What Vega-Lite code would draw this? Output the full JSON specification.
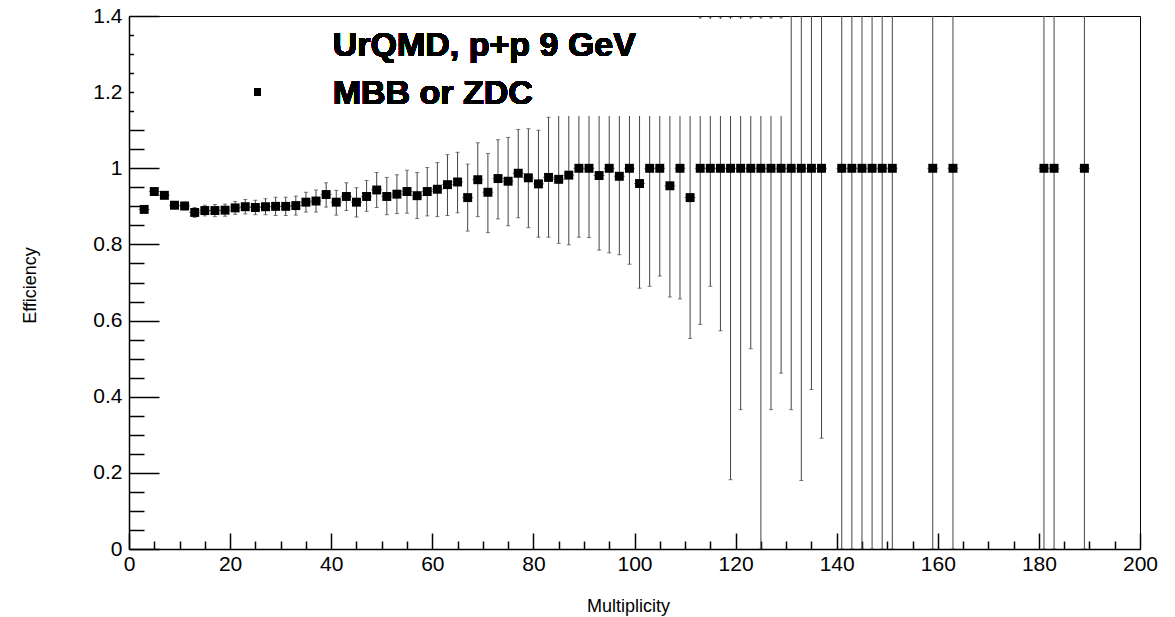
{
  "$schema": "https://vega.github.io/schema/vega-lite/v6.json",
  "width": 1011,
  "height": 533,
  "autosize": {"type": "none"},
  "padding": {"left": 129, "top": 16, "right": 35, "bottom": 68},
  "background": "white",
  "config": {
    "font": "Liberation Sans",
    "view": {"stroke": "#000", "strokeWidth": 1},
    "axis": {"grid": false, "domainColor": "#000", "domainWidth": 1.5, "tickColor": "#000", "tickWidth": 1.5, "labelColor": "#000", "titleColor": "#000", "labelFont": "Liberation Sans", "titleFont": "Liberation Sans", "titleFontWeight": "normal", "labelFlush": false, "labelOverlap": false, "labelBound": false, "zindex": 1, "offset": 0}
  },
  "resolve": {"axis": {"x": "independent", "y": "independent"}},
  "data": {
    "values": [
      {"x": 3, "y": 0.892, "lo": 0.886, "hi": 0.898},
      {"x": 5, "y": 0.939, "lo": 0.933, "hi": 0.945},
      {"x": 7, "y": 0.929, "lo": 0.922, "hi": 0.936},
      {"x": 9, "y": 0.903, "lo": 0.895, "hi": 0.911},
      {"x": 11, "y": 0.901, "lo": 0.891, "hi": 0.911},
      {"x": 13, "y": 0.884, "lo": 0.871, "hi": 0.897},
      {"x": 15, "y": 0.889, "lo": 0.875, "hi": 0.903},
      {"x": 17, "y": 0.889, "lo": 0.873, "hi": 0.905},
      {"x": 19, "y": 0.890, "lo": 0.874, "hi": 0.906},
      {"x": 21, "y": 0.896, "lo": 0.879, "hi": 0.913},
      {"x": 23, "y": 0.899, "lo": 0.880, "hi": 0.918},
      {"x": 25, "y": 0.897, "lo": 0.878, "hi": 0.916},
      {"x": 27, "y": 0.899, "lo": 0.878, "hi": 0.920},
      {"x": 29, "y": 0.900, "lo": 0.876, "hi": 0.924},
      {"x": 31, "y": 0.900, "lo": 0.876, "hi": 0.924},
      {"x": 33, "y": 0.902, "lo": 0.877, "hi": 0.927},
      {"x": 35, "y": 0.911, "lo": 0.885, "hi": 0.937},
      {"x": 37, "y": 0.914, "lo": 0.885, "hi": 0.943},
      {"x": 39, "y": 0.931, "lo": 0.898, "hi": 0.962},
      {"x": 41, "y": 0.911, "lo": 0.877, "hi": 0.942},
      {"x": 43, "y": 0.926, "lo": 0.889, "hi": 0.962},
      {"x": 45, "y": 0.911, "lo": 0.872, "hi": 0.949},
      {"x": 47, "y": 0.926, "lo": 0.887, "hi": 0.968},
      {"x": 49, "y": 0.943, "lo": 0.897, "hi": 0.989},
      {"x": 51, "y": 0.926, "lo": 0.878, "hi": 0.976},
      {"x": 53, "y": 0.932, "lo": 0.881, "hi": 0.983},
      {"x": 55, "y": 0.939, "lo": 0.882, "hi": 0.995},
      {"x": 57, "y": 0.928, "lo": 0.868, "hi": 0.989},
      {"x": 59, "y": 0.939, "lo": 0.875, "hi": 1.002},
      {"x": 61, "y": 0.945, "lo": 0.873, "hi": 1.015},
      {"x": 63, "y": 0.957, "lo": 0.876, "hi": 1.036},
      {"x": 65, "y": 0.964, "lo": 0.883, "hi": 1.042},
      {"x": 67, "y": 0.923, "lo": 0.835, "hi": 1.011},
      {"x": 69, "y": 0.970, "lo": 0.873, "hi": 1.067},
      {"x": 71, "y": 0.937, "lo": 0.831, "hi": 1.039},
      {"x": 73, "y": 0.973, "lo": 0.867, "hi": 1.075},
      {"x": 75, "y": 0.966, "lo": 0.849, "hi": 1.081},
      {"x": 77, "y": 0.987, "lo": 0.870, "hi": 1.102},
      {"x": 79, "y": 0.975, "lo": 0.844, "hi": 1.104},
      {"x": 81, "y": 0.959, "lo": 0.819, "hi": 1.100},
      {"x": 83, "y": 0.976, "lo": 0.819, "hi": 1.134},
      {"x": 85, "y": 0.971, "lo": 0.803, "hi": 1.3},
      {"x": 87, "y": 0.982, "lo": 0.799, "hi": 1.3},
      {"x": 89, "y": 1.0, "lo": 0.819, "hi": 1.3},
      {"x": 91, "y": 1.0, "lo": 0.818, "hi": 1.3},
      {"x": 93, "y": 0.981, "lo": 0.785, "hi": 1.3},
      {"x": 95, "y": 1.0, "lo": 0.778, "hi": 1.3},
      {"x": 97, "y": 0.979, "lo": 0.773, "hi": 1.3},
      {"x": 99, "y": 1.0, "lo": 0.748, "hi": 1.3},
      {"x": 101, "y": 0.960, "lo": 0.685, "hi": 1.3},
      {"x": 103, "y": 1.0, "lo": 0.690, "hi": 1.3},
      {"x": 105, "y": 1.0, "lo": 0.717, "hi": 1.3},
      {"x": 107, "y": 0.954, "lo": 0.662, "hi": 1.3},
      {"x": 109, "y": 1.0, "lo": 0.657, "hi": 1.3},
      {"x": 111, "y": 0.923, "lo": 0.553, "hi": 1.3},
      {"x": 113, "y": 1.0, "lo": 0.590, "hi": 1.397},
      {"x": 115, "y": 1.0, "lo": 0.690, "hi": 1.397},
      {"x": 117, "y": 1.0, "lo": 0.573, "hi": 1.397},
      {"x": 119, "y": 1.0, "lo": 0.182, "hi": 1.397},
      {"x": 121, "y": 1.0, "lo": 0.366, "hi": 1.397},
      {"x": 123, "y": 1.0, "lo": 0.526, "hi": 1.397},
      {"x": 125, "y": 1.0, "lo": 0.0, "hi": 1.397},
      {"x": 127, "y": 1.0, "lo": 0.366, "hi": 1.397},
      {"x": 129, "y": 1.0, "lo": 0.462, "hi": 1.397},
      {"x": 131, "y": 1.0, "lo": 0.366, "hi": 1.4},
      {"x": 133, "y": 1.0, "lo": 0.180, "hi": 1.4},
      {"x": 135, "y": 1.0, "lo": 0.419, "hi": 1.4},
      {"x": 137, "y": 1.0, "lo": 0.291, "hi": 1.4},
      {"x": 141, "y": 1.0, "lo": 0.0, "hi": 1.4},
      {"x": 143, "y": 1.0, "lo": 0.0, "hi": 1.4},
      {"x": 145, "y": 1.0, "lo": 0.0, "hi": 1.4},
      {"x": 147, "y": 1.0, "lo": 0.0, "hi": 1.4},
      {"x": 149, "y": 1.0, "lo": 0.0, "hi": 1.4},
      {"x": 151, "y": 1.0, "lo": 0.0, "hi": 1.4},
      {"x": 159, "y": 1.0, "lo": 0.0, "hi": 1.4},
      {"x": 163, "y": 1.0, "lo": 0.0, "hi": 1.4},
      {"x": 181, "y": 1.0, "lo": 0.0, "hi": 1.4},
      {"x": 183, "y": 1.0, "lo": 0.0, "hi": 1.4},
      {"x": 189, "y": 1.0, "lo": 0.0, "hi": 1.4}
    ]
  },
  "layer": [
    {
      "mark": {"type": "rule", "color": "#444", "strokeWidth": 1, "clip": true},
      "encoding": {
        "x": {"field": "x", "type": "quantitative", "scale": {"domain": [0, 200], "nice": false, "zero": false},
          "axis": {
            "orient": "bottom", "offset": 0,
            "title": "Multiplicity", "titleFontSize": 18, "titleX": 499, "titleY": 57, "titleAlign": "center", "titleBaseline": "middle",
            "values": [0,20,40,60,80,100,120,140,160,180,200],
            "format": "d",
            "tickSize": -16,
            "labelFontSize": 21, "labelPadding": 20, "labelBaseline": "top"
          }},
        "y": {"field": "lo", "type": "quantitative", "scale": {"domain": [0, 1.4], "nice": false, "zero": false},
          "axis": {
            "orient": "left", "offset": 0,
            "title": "Efficiency", "titleFontSize": 18, "titleX": -99, "titleY": 269, "titleAngle": -90, "titleAlign": "center", "titleBaseline": "middle",
            "values": [0,0.2,0.4,0.6,0.8,1,1.2,1.4],
            "format": "~g",
            "tickSize": -30,
            "labelFontSize": 21, "labelPadding": 37
          }},
        "y2": {"field": "hi"}
      }
    },
    {
      "mark": {"type": "tick", "orient": "horizontal", "color": "#444", "size": 4, "thickness": 1, "clip": true},
      "encoding": {
        "x": {"field": "x", "type": "quantitative",
          "axis": {"orient": "bottom", "offset": 0, "title": null, "labels": false, "domain": false, "tickSize": -8,
            "values": [5,10,15,25,30,35,45,50,55,65,70,75,85,90,95,105,110,115,125,130,135,145,150,155,165,170,175,185,190,195]}},
        "y": {"field": "lo", "type": "quantitative",
          "axis": {"orient": "left", "offset": 0, "title": null, "labels": false, "domain": false, "tickSize": -15,
            "values": [0.05,0.1,0.15,0.25,0.3,0.35,0.45,0.5,0.55,0.65,0.7,0.75,0.85,0.9,0.95,1.05,1.1,1.15,1.25,1.3,1.35]}}
      }
    },
    {
      "mark": {"type": "tick", "orient": "horizontal", "color": "#444", "size": 4, "thickness": 1, "clip": true},
      "encoding": {
        "x": {"field": "x", "type": "quantitative", "axis": null},
        "y": {"field": "hi", "type": "quantitative", "axis": null}
      }
    },
    {
      "mark": {"type": "tick", "orient": "horizontal", "color": "#444", "size": 11, "thickness": 1, "clip": true},
      "encoding": {
        "x": {"field": "x", "type": "quantitative", "axis": null},
        "y": {"field": "y", "type": "quantitative", "axis": null}
      }
    },
    {
      "mark": {"type": "point", "shape": "square", "filled": true, "color": "#000", "size": 80, "opacity": 1, "clip": true},
      "encoding": {
        "x": {"field": "x", "type": "quantitative", "axis": null},
        "y": {"field": "y", "type": "quantitative", "axis": null}
      }
    },
    {
      "mark": {"type": "rect", "fill": "white", "stroke": null},
      "encoding": {
        "x": {"datum": 1, "type": "quantitative", "axis": null},
        "x2": {"datum": 130.2},
        "y": {"datum": 1.139, "type": "quantitative", "axis": null},
        "y2": {"datum": 1.392}
      }
    },
    {
      "mark": {"type": "text", "align": "left", "baseline": "alphabetic", "fontSize": 34, "fontWeight": "bold", "font": "Liberation Sans", "color": "#000"},
      "encoding": {
        "x": {"datum": 40.3, "type": "quantitative", "axis": null},
        "y": {"datum": 1.295, "type": "quantitative", "axis": null},
        "text": {"value": "UrQMD, p+p 9 GeV"}
      }
    },
    {
      "mark": {"type": "text", "align": "left", "baseline": "alphabetic", "fontSize": 34, "fontWeight": "bold", "font": "Liberation Sans", "color": "#000"},
      "encoding": {
        "x": {"datum": 40.3, "type": "quantitative", "axis": null},
        "y": {"datum": 1.169, "type": "quantitative", "axis": null},
        "text": {"value": "MBB or ZDC"}
      }
    },
    {
      "mark": {"type": "point", "shape": "square", "filled": true, "color": "#000", "size": 45, "opacity": 1},
      "encoding": {
        "x": {"datum": 25.4, "type": "quantitative", "axis": null},
        "y": {"datum": 1.2, "type": "quantitative", "axis": null}
      }
    }
  ]
}
